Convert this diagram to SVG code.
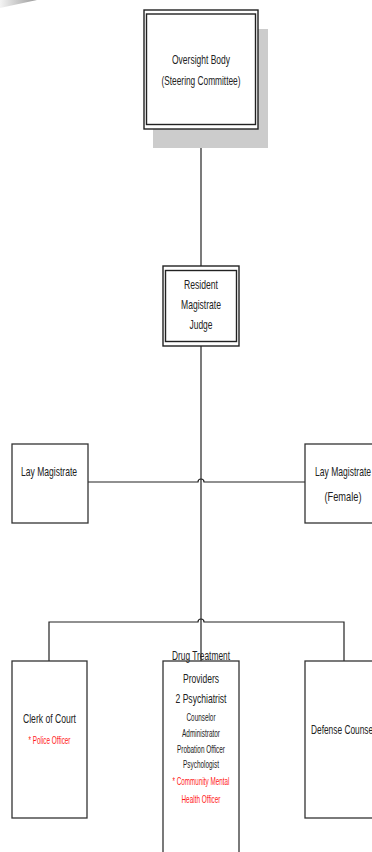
<svg xmlns="http://www.w3.org/2000/svg" width="372" height="852" viewBox="0 0 372 852">
<style>
.box{fill:#fff;stroke:#333;stroke-width:1.3}
.dbl{fill:none;stroke:#222;stroke-width:1.4}
.con{fill:none;stroke:#222;stroke-width:1.2}
text{font-family:"Liberation Sans Narrow","Liberation Sans",Arial,sans-serif;fill:#222;text-anchor:middle}
.l{font-size:13.5px}
.s{font-size:11px}
.r{font-size:11px;fill:#ff1a1a}
</style>
<defs>
<linearGradient id="g" x1="0" y1="0" x2="1" y2="0">
<stop offset="0" stop-color="#f4f4f4"/>
<stop offset="1" stop-color="#9a9a9a"/>
</linearGradient>
</defs>
<rect width="372" height="852" fill="#fff"/>
<polygon points="0,0 37,0 0,8" fill="url(#g)"/>
<g id="connectors">
<line class="con" x1="201" y1="129" x2="201" y2="266"/>
<line class="con" x1="201" y1="346" x2="201" y2="661"/>
<path class="con" d="M88,482 H198 A3,3 0 0 1 204,482 H305"/>
<path class="con" d="M49,661 V622 H198 A3,3 0 0 1 204,622 H344 V661"/>
</g>
<g id="oversight">
<rect x="153" y="29" width="115" height="119" fill="#cccccc"/>
<rect x="144" y="10" width="114" height="119" fill="#fff" stroke="#222" stroke-width="1.4"/>
<rect class="dbl" x="146.5" y="14" width="109" height="110.5"/>
<text class="l" x="201" y="64" textLength="58" lengthAdjust="spacingAndGlyphs">Oversight Body</text>
<text class="l" x="201" y="85" textLength="79" lengthAdjust="spacingAndGlyphs">(Steering Committee)</text>
</g>
<g id="resident">
<rect x="163" y="266" width="76" height="80" fill="#fff" stroke="#222" stroke-width="1.4"/>
<rect class="dbl" x="165.5" y="270.5" width="71" height="71"/>
<text class="l" x="201" y="289" textLength="34" lengthAdjust="spacingAndGlyphs">Resident</text>
<text class="l" x="201" y="309" textLength="40" lengthAdjust="spacingAndGlyphs">Magistrate</text>
<text class="l" x="201" y="329" textLength="23" lengthAdjust="spacingAndGlyphs">Judge</text>
</g>
<g id="lay-left">
<rect class="box" x="12" y="444" width="76" height="79"/>
<text class="l" x="49" y="476" textLength="56" lengthAdjust="spacingAndGlyphs">Lay Magistrate</text>
</g>
<g id="lay-right">
<rect class="box" x="305" y="444" width="76" height="79"/>
<text class="l" x="343" y="476" textLength="56" lengthAdjust="spacingAndGlyphs">Lay Magistrate</text>
<text class="l" x="343" y="501" textLength="37" lengthAdjust="spacingAndGlyphs">(Female)</text>
</g>
<g id="clerk">
<rect class="box" x="12" y="661" width="75" height="157"/>
<text class="l" x="49.5" y="723" textLength="53" lengthAdjust="spacingAndGlyphs">Clerk of Court</text>
<text class="r" x="49.5" y="744" textLength="42" lengthAdjust="spacingAndGlyphs">* Police Officer</text>
</g>
<g id="drug">
<rect class="box" x="163" y="661" width="76" height="200"/>
<text class="l" x="201" y="660" textLength="58" lengthAdjust="spacingAndGlyphs">Drug Treatment</text>
<text class="l" x="201" y="683" textLength="36" lengthAdjust="spacingAndGlyphs">Providers</text>
<text class="l" x="201" y="703" textLength="51" lengthAdjust="spacingAndGlyphs">2 Psychiatrist</text>
<text class="s" x="201" y="721" textLength="29" lengthAdjust="spacingAndGlyphs">Counselor</text>
<text class="s" x="201" y="737" textLength="38" lengthAdjust="spacingAndGlyphs">Administrator</text>
<text class="s" x="201" y="753" textLength="48" lengthAdjust="spacingAndGlyphs">Probation Officer</text>
<text class="s" x="201" y="768" textLength="36" lengthAdjust="spacingAndGlyphs">Psychologist</text>
<text class="r" x="201" y="785" textLength="57" lengthAdjust="spacingAndGlyphs">* Community Mental</text>
<text class="r" x="201" y="803" textLength="39" lengthAdjust="spacingAndGlyphs">Health Officer</text>
</g>
<g id="defense">
<rect class="box" x="305" y="661" width="76" height="157"/>
<text class="l" x="343" y="734" textLength="64" lengthAdjust="spacingAndGlyphs">Defense Counsel</text>
</g>
</svg>
